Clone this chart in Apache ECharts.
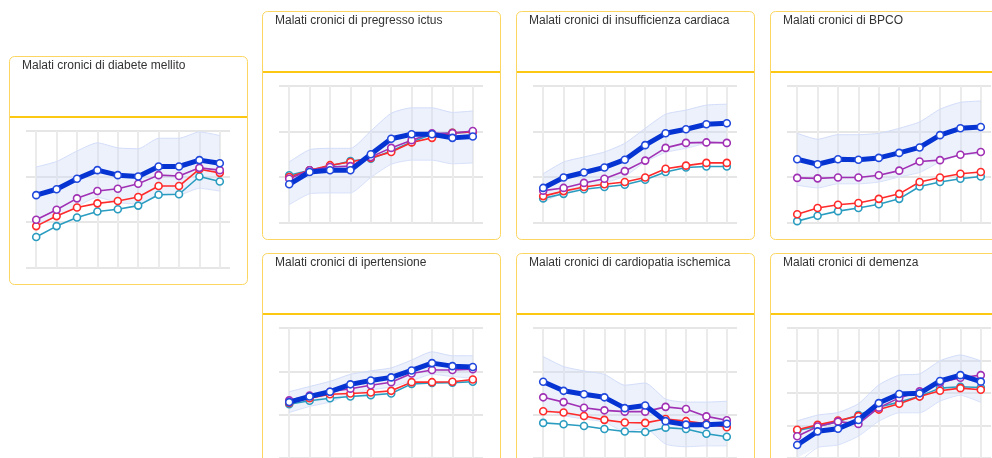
<!DOCTYPE html>
<html>
<head>
<meta charset="utf-8">
<script src="https://cdn.jsdelivr.net/npm/echarts@6/dist/echarts.min.js"></script>
<style>
  html, body { margin: 0; padding: 0; background: #fff; }
  #chart { width: 992px; height: 458px; }
</style>
</head>
<body>
<div id="chart"></div>
<script>
// ---- Data ----
const periods = ['2010', '2011', '2012', '2013', '2014', '2015', '2016', '2017', '2018', '2019'];

const titles = [
  'Malati cronici di diabete mellito',
  'Malati cronici di pregresso ictus',
  'Malati cronici di insufficienza cardiaca',
  'Malati cronici di BPCO',
  'Malati cronici di ipertensione',
  'Malati cronici di cardiopatia ischemica',
  'Malati cronici di demenza'
];

// diabete mellito
const diabBlue    = [15.9, 17.2, 19.5, 21.4, 20.3, 20.0, 22.2, 22.2, 23.6, 22.9];
const diabUpper   = [22.1, 23.3, 25.6, 27.4, 26.3, 26.1, 28.4, 28.4, 29.8, 29.0];
const diabLower   = [9.7, 11.1, 13.4, 15.4, 14.3, 13.9, 16.0, 16.0, 17.4, 16.8];
const diabMagenta = [10.5, 12.7, 15.2, 16.8, 17.3, 18.4, 20.3, 20.1, 21.9, 21.4];
const diabRed     = [9.1, 11.3, 13.2, 14.1, 14.6, 15.5, 17.9, 17.9, 21.6, 20.8];
const diabTeal    = [6.7, 9.1, 11.0, 12.3, 12.8, 13.6, 16.0, 16.1, 20.0, 18.9];

// pregresso ictus
const ictuBlue    = [8.4, 11.1, 11.5, 11.5, 15.0, 18.4, 19.4, 19.4, 18.6, 18.9];
const ictuUpper   = [13.3, 16.0, 16.3, 16.3, 20.1, 24.0, 25.2, 25.2, 24.2, 24.5];
const ictuLower   = [3.9, 6.3, 6.5, 6.5, 9.9, 12.8, 13.7, 13.7, 12.9, 13.1];
const ictuMagenta = [9.6, 11.5, 12.2, 12.4, 14.4, 16.4, 18.1, 19.6, 19.6, 20.1];
const ictuRed     = [10.0, 11.5, 12.6, 13.3, 14.2, 15.5, 17.6, 18.6, 19.7, 19.9];
const ictuTeal    = [10.4, 11.5, 12.4, 13.5, 14.0, 15.7, 17.7, 19.4, 19.7, 19.9];

// insufficienza cardiaca
const insuBlue    = [7.6, 9.9, 11.0, 12.1, 13.8, 17.0, 19.6, 20.5, 21.6, 21.8];
const insuUpper   = [10.7, 13.3, 14.4, 15.5, 17.4, 20.7, 23.8, 24.7, 25.8, 26.0];
const insuLower   = [4.5, 6.5, 7.6, 8.7, 10.2, 13.3, 15.4, 16.3, 17.4, 17.6];
const insuMagenta = [7.0, 7.6, 8.7, 9.6, 11.3, 13.6, 16.4, 17.5, 17.6, 17.5];
const insuRed     = [5.8, 6.9, 7.8, 8.4, 8.9, 9.9, 11.8, 12.5, 13.1, 13.1];
const insuTeal    = [5.3, 6.3, 7.3, 7.8, 8.3, 9.4, 11.1, 12.1, 12.3, 12.3];

// BPCO
const bpcoBlue    = [13.9, 12.8, 13.9, 13.8, 14.2, 15.3, 16.5, 19.2, 20.7, 21.0];
const bpcoUpper   = [19.6, 18.3, 19.3, 19.3, 19.6, 20.7, 22.1, 24.9, 26.4, 26.7];
const bpcoLower   = [8.2, 7.6, 8.5, 8.5, 8.9, 10.0, 11.0, 13.3, 14.8, 15.1];
const bpcoMagenta = [9.8, 9.7, 9.9, 9.9, 10.4, 11.4, 13.4, 13.7, 14.9, 15.5];
const bpcoRed     = [1.8, 3.2, 3.9, 4.3, 5.2, 6.3, 8.9, 9.9, 10.7, 11.1];
const bpcoTeal    = [0.3, 1.5, 2.5, 3.2, 4.0, 5.2, 7.9, 8.9, 9.6, 10.1];

// ipertensione
const ipertBlue    = [12.9, 14.2, 15.3, 17.0, 17.9, 18.6, 20.2, 21.9, 21.2, 21.0];
const ipertUpper   = [15.3, 16.5, 17.7, 19.3, 20.1, 20.8, 22.6, 24.5, 23.6, 23.6];
const ipertLower   = [10.5, 11.9, 12.9, 14.7, 15.7, 16.4, 17.8, 19.3, 18.8, 18.4];
const ipertMagenta = [13.3, 14.4, 15.3, 16.0, 16.8, 17.5, 19.5, 20.3, 20.3, 20.5];
const ipertRed     = [12.7, 13.8, 14.7, 14.9, 15.1, 15.5, 17.5, 17.5, 17.6, 18.1];
const ipertTeal    = [12.4, 13.2, 13.8, 14.2, 14.5, 14.9, 17.1, 17.3, 17.4, 17.6];

// cardiopatia ischemica
const cardBlue    = [17.6, 15.5, 14.7, 14.0, 11.5, 12.1, 8.5, 7.7, 7.7, 7.9];
const cardUpper   = [23.4, 21.1, 20.1, 19.3, 16.8, 17.3, 13.6, 12.9, 12.9, 13.1];
const cardLower   = [11.6, 9.8, 9.0, 8.3, 6.1, 6.8, 3.2, 2.6, 2.8, 2.8];
const cardMagenta = [14.0, 12.9, 11.6, 11.0, 10.7, 10.7, 11.8, 11.3, 9.6, 8.7];
const cardRed     = [10.8, 10.5, 9.7, 8.8, 8.2, 8.1, 9.0, 8.5, 7.9, 7.1];
const cardTeal    = [8.1, 7.8, 7.4, 6.7, 6.1, 6.0, 7.0, 6.7, 5.6, 4.9];

// demenza
const demeBlue    = [4.0, 8.2, 9.0, 11.7, 16.9, 19.7, 19.9, 23.7, 25.5, 23.5];
const demeUpper   = [9.7, 13.2, 14.0, 16.7, 22.5, 25.5, 25.9, 29.9, 31.7, 29.9];
const demeLower   = [-1.7, 3.2, 4.0, 6.7, 11.3, 13.9, 13.9, 17.5, 19.3, 17.1];
const demeMagenta = [6.7, 9.7, 11.2, 10.5, 15.5, 18.5, 20.5, 23.2, 24.7, 25.5];
const demeRed     = [8.7, 10.2, 11.5, 12.9, 14.9, 16.7, 18.9, 20.7, 21.5, 21.0];
const demeTeal    = [8.5, 9.7, 11.2, 13.2, 15.7, 17.2, 19.0, 21.5, 21.9, 21.7];

const yMax = [30, 30, 30, 30, 30, 30, 40];

// ---- Layout ----
const panelPos = [[9, 56], [262, 11], [516, 11], [770, 11], [262, 253], [516, 253], [770, 253]];
const panelData = [
  [diabBlue, diabUpper, diabLower, diabMagenta, diabRed, diabTeal],
  [ictuBlue, ictuUpper, ictuLower, ictuMagenta, ictuRed, ictuTeal],
  [insuBlue, insuUpper, insuLower, insuMagenta, insuRed, insuTeal],
  [bpcoBlue, bpcoUpper, bpcoLower, bpcoMagenta, bpcoRed, bpcoTeal],
  [ipertBlue, ipertUpper, ipertLower, ipertMagenta, ipertRed, ipertTeal],
  [cardBlue, cardUpper, cardLower, cardMagenta, cardRed, cardTeal],
  [demeBlue, demeUpper, demeLower, demeMagenta, demeRed, demeTeal]
];

const BOX_W = 238, BOX_H = 228;
const C_BLUE = '#0634d2', C_MAG = '#a030b4', C_RED = '#ff2a2a', C_TEAL = '#2a9cc0';
const FONT = '"Liberation Sans", Arial, sans-serif';

const grids = [], xAxes = [], yAxes = [], series = [], titleArr = [], graphics = [];

panelPos.forEach(function (p, i) {
  const L = p[0], T = p[1];
  graphics.push({
    type: 'rect', z: -10,
    shape: { x: L + 0.5, y: T + 0.5, width: BOX_W, height: BOX_H, r: 5 },
    style: { fill: '#fff', stroke: '#fbd660', lineWidth: 1 }
  });
  graphics.push({
    type: 'line', z: -9,
    shape: { x1: L + 1, y1: T + 61, x2: L + BOX_W, y2: T + 61 },
    style: { stroke: '#fcc812', lineWidth: 2 }
  });
  titleArr.push({
    text: titles[i], left: L + 13, top: T + 4, padding: 0,
    textStyle: { fontSize: 12, fontWeight: 'normal', color: '#333', fontFamily: FONT }
  });
  grids.push({ left: L + 17, top: T + 75, width: 204, height: 136.5 });
  xAxes.push({
    gridIndex: i, type: 'category', data: periods, boundaryGap: true,
    axisLine: { show: false }, axisTick: { show: false },
    axisLabel: { show: false, interval: 0 },
    splitLine: { show: true, interval: 0, alignWithLabel: true, lineStyle: { color: '#ebebeb', width: 2 } }
  });
  yAxes.push({
    gridIndex: i, type: 'value', min: 0, max: yMax[i], interval: 10,
    axisLine: { show: false }, axisTick: { show: false }, axisLabel: { show: false },
    splitLine: { show: true, lineStyle: { color: '#e6e6e6', width: 2 } }
  });

  const d = panelData[i];
  const blue = d[0], upper = d[1], lower = d[2];
  const diff = upper.map(function (u, k) { return +(u - lower[k]).toFixed(2); });
  const stackName = 'band' + i;
  series.push({
    type: 'line', xAxisIndex: i, yAxisIndex: i, data: lower, stack: stackName,
    symbol: 'none', smooth: 0.2, silent: true, z: 1,
    lineStyle: { color: '#d8e1fa', width: 1 }
  });
  series.push({
    type: 'line', xAxisIndex: i, yAxisIndex: i, data: diff, stack: stackName,
    symbol: 'none', smooth: 0.2, silent: true, z: 1,
    lineStyle: { color: '#d3ddf9', width: 1 },
    areaStyle: { color: 'rgba(200,214,247,0.5)' }
  });
  const thin = [[d[5], C_TEAL], [d[4], C_RED], [d[3], C_MAG]];
  thin.forEach(function (t) {
    series.push({
      type: 'line', xAxisIndex: i, yAxisIndex: i, data: t[0], z: 3,
      symbol: 'circle', symbolSize: 7,
      itemStyle: { color: '#fff', borderColor: t[1], borderWidth: 1.6 },
      lineStyle: { color: t[1], width: 1.6 }
    });
  });
  series.push({
    type: 'line', xAxisIndex: i, yAxisIndex: i, data: blue, z: 4,
    symbol: 'circle', symbolSize: 7,
    itemStyle: { color: '#fff', borderColor: '#2148dc', borderWidth: 1.6 },
    lineStyle: { color: C_BLUE, width: 5 }
  });
});

const chart = echarts.init(document.getElementById('chart'), null, { renderer: 'canvas' });
chart.setOption({
  backgroundColor: '#fff',
  animation: false,
  title: titleArr,
  grid: grids,
  xAxis: xAxes,
  yAxis: yAxes,
  graphic: { elements: graphics },
  series: series
});
</script>
</body>
</html>
